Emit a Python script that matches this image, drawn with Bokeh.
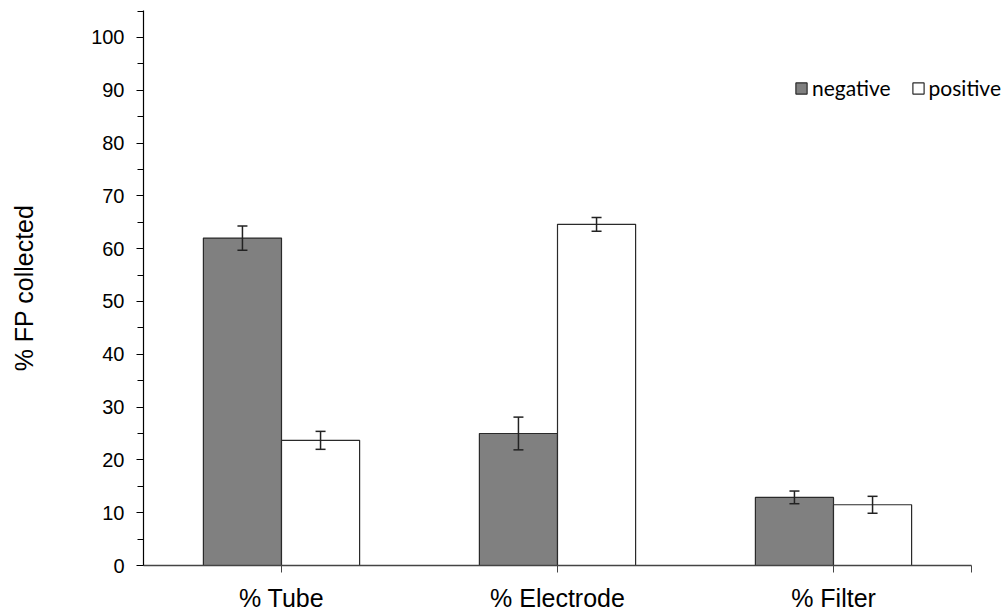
import numpy as np
from bokeh.plotting import figure
from bokeh.models import (ColumnDataSource, FixedTicker, Range1d, Whisker, TeeHead,
                          Legend, LegendItem)
from bokeh.embed import file_html
from bokeh.resources import INLINE

# Fraction of FP collected per location, by polarity (mean and error)
categories = ["% Tube", "% Electrode", "% Filter"]
negative = [62.0, 25.0, 12.9]
negative_err = [2.3, 3.1, 1.2]
positive = [23.7, 64.6, 11.5]
positive_err = [1.7, 1.3, 1.6]
y_ticks = [0, 10, 20, 30, 40, 50, 60, 70, 80, 90, 100]
y_minor = [5, 15, 25, 35, 45, 55, 65, 75, 85, 95, 105]

BAR_W = 0.283
n = len(categories)
centers = np.arange(n) + 0.5

neg_src = ColumnDataSource(dict(
    x=centers - BAR_W / 2, top=negative,
    upper=np.array(negative) + np.array(negative_err),
    lower=np.array(negative) - np.array(negative_err)))
pos_src = ColumnDataSource(dict(
    x=centers + BAR_W / 2, top=positive,
    upper=np.array(positive) + np.array(positive_err),
    lower=np.array(positive) - np.array(positive_err)))

# frame runs to the right edge so the legend is not clipped; the x axis line
# itself stops at the last category via its bounds
p = figure(width=1006, height=615, output_backend="svg", toolbar_location=None,
           x_range=Range1d(0, n * 863 / 828), y_range=Range1d(0, 105.1),
           min_border_left=143, min_border_right=0, min_border_top=10,
           min_border_bottom=50)
p.outline_line_color = None
p.grid.visible = False
p.background_fill_color = "white"

neg_r = p.vbar(x="x", top="top", width=BAR_W, source=neg_src,
               fill_color="#808080", line_color="#2a2a2a", line_width=1.2)
pos_r = p.vbar(x="x", top="top", width=BAR_W, source=pos_src,
               fill_color="white", line_color="#2a2a2a", line_width=1.2)

for src in (neg_src, pos_src):
    p.add_layout(Whisker(source=src, base="x", upper="upper", lower="lower",
                         level="overlay",
                         line_color="#222222", line_width=1.5,
                         upper_head=TeeHead(size=10, line_width=1.5, line_color="#222222"),
                         lower_head=TeeHead(size=10, line_width=1.5, line_color="#222222")))

# y axis
p.yaxis.ticker = FixedTicker(ticks=y_ticks, minor_ticks=y_minor)
p.yaxis.axis_line_color = "black"
p.yaxis.axis_line_width = 1.2
p.yaxis.major_tick_in = 0
p.yaxis.major_tick_out = 7
p.yaxis.minor_tick_in = 0
p.yaxis.minor_tick_out = 6
p.yaxis.major_tick_line_color = "black"
p.yaxis.minor_tick_line_color = "black"
p.yaxis.major_label_text_font = "Liberation Sans"
p.yaxis.major_label_text_font_size = "20px"
p.yaxis.major_label_text_color = "black"
p.yaxis.major_label_standoff = 12
p.yaxis.axis_label = "% FP collected"
p.yaxis.axis_label_text_font = "Liberation Sans"
p.yaxis.axis_label_text_font_size = "25px"
p.yaxis.axis_label_text_font_style = "normal"
p.yaxis.axis_label_text_color = "black"
p.yaxis.axis_label_standoff = 50

# x axis: ticks under each category centre and at the right end
x_ticks = list(centers) + [float(n)]
p.xaxis.bounds = (0, n)
p.xaxis.ticker = FixedTicker(ticks=x_ticks, minor_ticks=[])
p.xaxis.major_label_overrides = {float(c): lab for c, lab in zip(centers, categories)}
p.xaxis.major_label_overrides[float(n)] = ""
p.xaxis.axis_line_color = "#444444"
p.xaxis.axis_line_width = 1.5
p.xaxis.major_tick_in = 0
p.xaxis.major_tick_out = 7
p.xaxis.major_tick_line_color = "#444444"
p.xaxis.major_label_text_font = "Liberation Sans"
p.xaxis.major_label_text_font_size = "25px"
p.xaxis.major_label_text_color = "black"
p.xaxis.major_label_standoff = 11

legend = Legend(items=[LegendItem(label="negative", renderers=[neg_r]),
                       LegendItem(label="positive", renderers=[pos_r])],
                orientation="horizontal", location=(651, 465),
                glyph_width=14, glyph_height=14, label_standoff=4, spacing=20,
                padding=0, margin=0, border_line_color=None,
                background_fill_alpha=0,
                label_text_font="Lato", label_text_font_size="21px",
                label_text_color="black")
p.add_layout(legend)

open("out.html", "w").write(file_html(p, INLINE))
